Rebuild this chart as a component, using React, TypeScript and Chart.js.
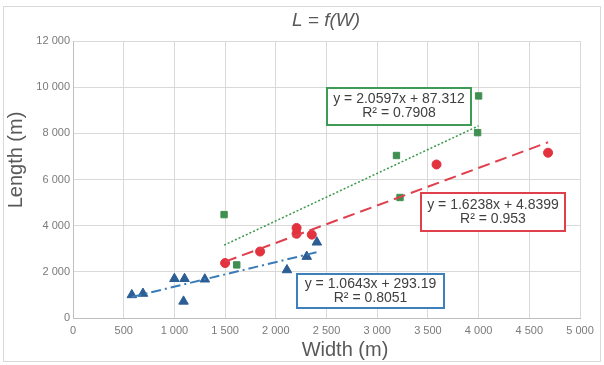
import React, { useEffect, useRef } from "react";
import { Chart, registerables } from "chart.js";

Chart.register(...registerables);

// Series data: [width, length]
const blueWidth = [580, 690, 1000, 1100, 1090, 1300, 2110, 2305, 2405];
const blueLength = [1000, 1060, 1700, 1700, 720, 1680, 2080, 2660, 3280];

const redWidth = [1500, 1845, 2205, 2205, 2355, 3585, 4685];
const redLength = [2380, 2880, 3900, 3650, 3610, 6650, 7160];

const greenWidth = [1490, 1615, 3190, 3225, 3990, 4000];
const greenLength = [4480, 2300, 7040, 5220, 8030, 9620];

// Trendline coefficients [slope, intercept, R²]
const blueFit = [1.0643, 293.19, 0.8051];
const redFit = [1.6238, 4.8399, 0.953];
const greenFit = [2.0597, 87.312, 0.7908];

const xTicks = [0, 500, 1000, 1500, 2000, 2500, 3000, 3500, 4000, 4500, 5000];
const yTicks = [0, 2000, 4000, 6000, 8000, 10000, 12000];

const chartTitle = "L = f(W)";
const xTitle = "Width (m)";
const yTitle = "Length (m)";

const fmt = (v: number) => String(v).replace(/\B(?=(\d{3})+(?!\d))/g, " ");

const pts = (xs: number[], ys: number[]) => xs.map((x, i) => ({ x, y: ys[i] }));
const fitLine = (xs: number[], f: number[]) => {
  const lo = Math.min(...xs);
  const hi = Math.max(...xs);
  return [
    { x: lo, y: f[0] * lo + f[1] },
    { x: hi, y: f[0] * hi + f[1] },
  ];
};
const eqText = (f: number[]) => [
  `y = ${f[0]}x + ${f[1]}`,
  `R² = ${f[2]}`,
];

const FONT = "'Liberation Sans', Arial, sans-serif";
const GREY = "#595959";
const TICK_GREY = "#7a7a7a";

const BLUE = "#2c5d94";
const RED = "#e2323e";
const GREEN = "#3f8f50";

export default function App() {
  const ref = useRef<HTMLCanvasElement | null>(null);

  useEffect(() => {
    if (!ref.current) return;

    const boxes = [
      { lines: eqText(greenFit), color: "#3e9a55", x: 327, y: 88, w: 144, h: 37 },
      { lines: eqText(redFit), color: "#e0404c", x: 421, y: 193, w: 144, h: 38 },
      { lines: eqText(blueFit), color: "#3d80bb", x: 297, y: 274, w: 147, h: 34 },
    ];

    const decor = {
      id: "decor",
      beforeDraw(chart: any) {
        const c = chart.ctx;
        c.save();
        c.fillStyle = "#ffffff";
        c.fillRect(0, 0, chart.width, chart.height);
        c.strokeStyle = "#d9d9d9";
        c.lineWidth = 1;
        c.strokeRect(3.5, 6.5, 597, 355);
        c.restore();
      },
      afterDraw(chart: any) {
        const c = chart.ctx;
        c.save();
        // titles
        c.fillStyle = GREY;
        c.textAlign = "center";
        c.textBaseline = "middle";
        c.font = `italic 19px ${FONT}`;
        c.fillText(chartTitle, 326, 21);
        c.font = `20px ${FONT}`;
        c.fillText(xTitle, 345, 350);
        c.save();
        c.translate(16, 160);
        c.rotate(-Math.PI / 2);
        c.fillText(yTitle, 0, 0);
        c.restore();
        // equation boxes
        for (const b of boxes) {
          c.fillStyle = "#ffffff";
          c.fillRect(b.x, b.y, b.w, b.h);
          c.strokeStyle = b.color;
          c.lineWidth = 2;
          c.strokeRect(b.x, b.y, b.w, b.h);
          c.fillStyle = "#404040";
          c.font = `14px ${FONT}`;
          c.fillText(b.lines[0], b.x + b.w / 2, b.y + b.h / 2 - 7);
          c.fillText(b.lines[1], b.x + b.w / 2, b.y + b.h / 2 + 7);
        }
        c.restore();
      },
    };

    const chart = new Chart(ref.current, {
      type: "scatter",
      data: {
        datasets: [
          {
            label: "green fit",
            data: fitLine(greenWidth, greenFit),
            showLine: true,
            borderColor: "#3a9a4a",
            borderWidth: 1.5,
            borderDash: [2, 2],
            pointRadius: 0,
          },
          {
            label: "red fit",
            data: fitLine(redWidth, redFit),
            showLine: true,
            borderColor: "#e0404c",
            borderWidth: 2,
            borderDash: [12, 6],
            pointRadius: 0,
          },
          {
            label: "blue fit",
            data: fitLine(blueWidth, blueFit),
            showLine: true,
            borderColor: "#3a7cb8",
            borderWidth: 2,
            borderDash: [10, 4, 2, 4],
            pointRadius: 0,
          },
          {
            label: "blue",
            data: pts(blueWidth, blueLength),
            pointStyle: "triangle",
            pointRadius: 5.5,
            backgroundColor: BLUE,
            borderColor: BLUE,
            borderWidth: 1,
          },
          {
            label: "red",
            data: pts(redWidth, redLength),
            pointStyle: "circle",
            pointRadius: 4.5,
            backgroundColor: RED,
            borderColor: RED,
            borderWidth: 1,
          },
          {
            label: "green",
            data: pts(greenWidth, greenLength),
            pointStyle: "rect",
            pointRadius: 4.5,
            backgroundColor: GREEN,
            borderColor: GREEN,
            borderWidth: 1,
          },
        ],
      },
      options: {
        animation: false,
        responsive: false,
        maintainAspectRatio: false,
        layout: { padding: { left: 0, right: 24, top: 41, bottom: 0 } },
        plugins: {
          legend: { display: false },
          tooltip: { enabled: false },
          title: { display: false },
        },
        scales: {
          x: {
            type: "linear",
            min: xTicks[0],
            max: xTicks[xTicks.length - 1],
            afterFit: (s: any) => {
              s.height = 47;
            },
            afterBuildTicks: (s: any) => {
              s.ticks = xTicks.map((v) => ({ value: v }));
            },
            grid: { color: "#d9d9d9", drawTicks: false },
            border: { color: "#bfbfbf" },
            ticks: {
              padding: 6,
              color: TICK_GREY,
              font: { family: FONT, size: 11 },
              callback: (v: any) => fmt(Number(v)),
              maxRotation: 0,
            },
          },
          y: {
            type: "linear",
            min: yTicks[0],
            max: yTicks[yTicks.length - 1],
            afterFit: (s: any) => {
              s.width = 73;
            },
            afterBuildTicks: (s: any) => {
              s.ticks = yTicks.map((v) => ({ value: v }));
            },
            grid: { color: "#d9d9d9", drawTicks: false },
            border: { color: "#bfbfbf" },
            ticks: {
              padding: 3,
              color: TICK_GREY,
              font: { family: FONT, size: 11 },
              callback: (v: any) => fmt(Number(v)),
            },
          },
        },
      },
      plugins: [decor],
    } as any);

    return () => chart.destroy();
  }, []);

  return (
    <div style={{ position: "fixed", left: 0, top: 0, width: 604, height: 365 }}>
      <canvas ref={ref} width={604} height={365} style={{ width: 604, height: 365 }} />
    </div>
  );
}
